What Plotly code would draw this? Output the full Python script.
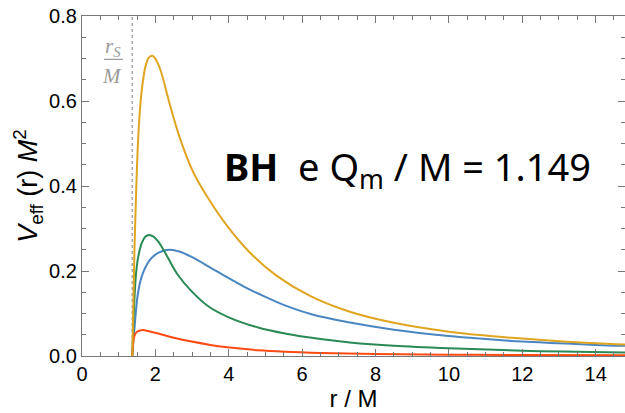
import plotly.graph_objects as go

# r/M sample points and V_eff values per curve
r_orange = [1.37, 1.40, 1.43, 1.47, 1.52, 1.58, 1.65, 1.74, 1.83, 1.93, 2.03, 2.15, 2.40, 2.67, 3.03,
            3.44, 3.94, 4.58, 5.30, 6.20, 7.30, 8.50, 10.0, 11.0, 12.0, 13.0, 14.0, 14.8]
v_orange = [0.000, 0.120, 0.250, 0.370, 0.490, 0.580, 0.640, 0.685, 0.703, 0.706, 0.695, 0.670, 0.590, 0.512, 0.433,
            0.371, 0.308, 0.243, 0.189, 0.142, 0.104, 0.078, 0.057, 0.048, 0.041, 0.035, 0.030, 0.027]

r_green = [1.37, 1.40, 1.44, 1.48, 1.53, 1.63, 1.73, 1.83, 1.95, 2.08, 2.22, 2.35, 2.62, 2.99, 3.44,
           4.00, 4.80, 5.53, 6.50, 7.30, 8.50, 10.0, 12.0, 14.8]
v_green = [0.000, 0.075, 0.152, 0.200, 0.232, 0.266, 0.281, 0.285, 0.281, 0.269, 0.250, 0.230, 0.190, 0.152, 0.117,
           0.091, 0.067, 0.053, 0.040, 0.032, 0.024, 0.018, 0.0125, 0.0084]

r_blue = [1.37, 1.40, 1.44, 1.48, 1.53, 1.62, 1.72, 1.85, 1.99, 2.20, 2.40, 2.65, 2.99, 3.50, 3.90, 4.40,
          4.80, 5.53, 6.30, 7.30, 8.50, 10.0, 11.0, 12.0, 13.0, 14.0, 14.8]
v_blue = [0.000, 0.035, 0.075, 0.115, 0.150, 0.185, 0.207, 0.226, 0.238, 0.247, 0.250, 0.246, 0.233, 0.208, 0.188, 0.164,
          0.147, 0.119, 0.097, 0.079, 0.062, 0.047, 0.040, 0.034, 0.030, 0.026, 0.024]

r_red = [1.37, 1.40, 1.44, 1.50, 1.58, 1.67, 1.80, 2.08, 2.50, 2.99, 3.50, 3.90, 4.80, 5.53, 6.50, 8.00, 10.0, 12.0, 14.8]
v_red = [0.000, 0.035, 0.050, 0.057, 0.060, 0.061, 0.059, 0.053, 0.043, 0.034, 0.026, 0.021, 0.0135, 0.0100, 0.0072,
         0.0048, 0.0031, 0.0022, 0.0015]

r_s = 1.37
x_ticks = [0, 2, 4, 6, 8, 10, 12, 14]
y_ticks = [0.0, 0.2, 0.4, 0.6, 0.8]

fig = go.Figure()
series = [
    (r_blue, v_blue, "#4a86c0"),
    (r_green, v_green, "#2a8a55"),
    (r_red, v_red, "#ff4a12"),
    (r_orange, v_orange, "#e0a520"),
]
for xs, ys, col in series:
    fig.add_trace(go.Scatter(x=xs, y=ys, mode="lines",
                             line=dict(color=col, width=2, shape="spline", smoothing=1.0),
                             showlegend=False, hoverinfo="skip"))

# vertical dotted line at r_S/M
fig.add_shape(type="line", x0=r_s, x1=r_s, y0=0, y1=0.8, xref="x", yref="y",
              line=dict(color="#aaaaaa", width=1.5, dash="dot"), layer="below")

# r_S / M fraction label
gray = "#9a9a9a"
fig.add_annotation(x=1.12, y=0.728, xref="x", yref="y", xanchor="right", yanchor="middle",
                   text="<i>r</i><sub><i>S</i></sub>", showarrow=False,
                   font=dict(family="Liberation Serif", size=21, color=gray))
fig.add_annotation(x=1.14, y=0.660, xref="x", yref="y", xanchor="right", yanchor="middle",
                   text="<i>M</i>", showarrow=False,
                   font=dict(family="Liberation Serif", size=21, color=gray))
fig.add_shape(type="line", x0=0.6, x1=1.12, y0=0.698, y1=0.698, xref="x", yref="y",
              line=dict(color=gray, width=1.2))

# main label
fig.add_annotation(x=0.257, y=0.552, xref="paper", yref="paper", xanchor="left", yanchor="middle",
                   text="<b>BH</b>&nbsp; e Q<sub>m</sub> / M = 1.149", showarrow=False,
                   font=dict(family="Noto Sans", size=38, color="black"))

axis_common = dict(showline=True, linecolor="#777777", linewidth=1.3, mirror="ticks",
                   ticks="inside", ticklen=7, tickwidth=1, tickcolor="#777777",
                   showgrid=False, zeroline=False,
                   tickfont=dict(family="Liberation Sans", size=20, color="black"))

fig.update_xaxes(range=[0, 14.8], tickvals=x_ticks, ticktext=[str(t) for t in x_ticks],
                 minor=dict(dtick=0.5, ticks="inside", ticklen=4, tickcolor="#777777"),
                 title=dict(text="r / M", font=dict(family="Liberation Sans", size=24, color="black"), standoff=6),
                 **axis_common)
fig.update_yaxes(range=[0, 0.8], tickvals=y_ticks, ticktext=[f"{t:.1f}" for t in y_ticks],
                 minor=dict(dtick=0.05, ticks="inside", ticklen=4, tickcolor="#777777"),
                 title=dict(text="<i>V</i><sub>eff</sub> (r) <i>M</i><sup>2</sup>",
                            font=dict(family="Liberation Sans", size=27, color="black"), standoff=3),
                 **axis_common)

fig.update_layout(width=625, height=413, margin=dict(l=82, r=0, t=16, b=57),
                  plot_bgcolor="white", paper_bgcolor="white")

fig.write_html("out.html")
